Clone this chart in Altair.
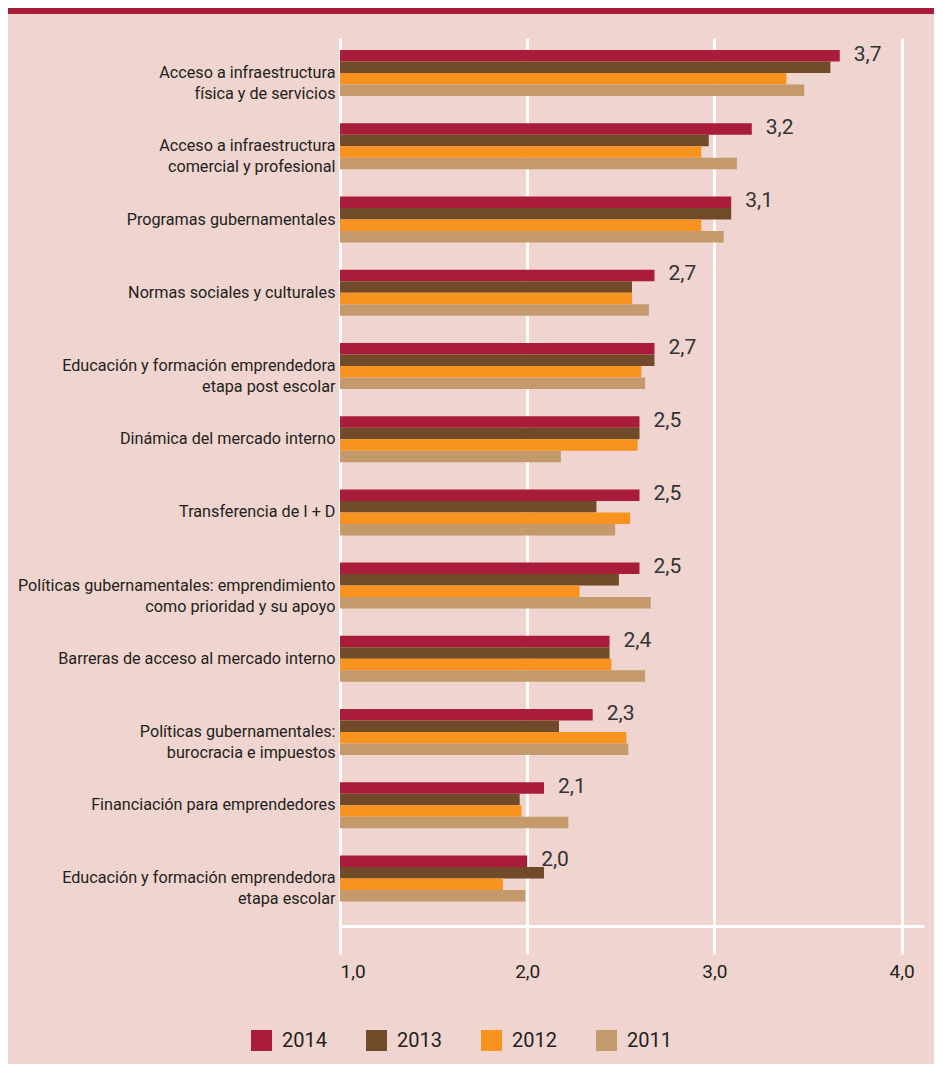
import altair as alt
import pandas as pd

categories = [
    "Acceso a infraestructura|física y de servicios",
    "Acceso a infraestructura|comercial y profesional",
    "Programas gubernamentales",
    "Normas sociales y culturales",
    "Educación y formación emprendedora|etapa post escolar",
    "Dinámica del mercado interno",
    "Transferencia de I + D",
    "Políticas gubernamentales: emprendimiento|como prioridad y su apoyo",
    "Barreras de acceso al mercado interno",
    "Políticas gubernamentales:|burocracia e impuestos",
    "Financiación para emprendedores",
    "Educación y formación emprendedora|etapa escolar",
]
years = ["2014", "2013", "2012", "2011"]
v2014 = [3.67, 3.20, 3.09, 2.68, 2.68, 2.60, 2.60, 2.60, 2.44, 2.35, 2.09, 2.00]
v2013 = [3.62, 2.97, 3.09, 2.56, 2.68, 2.60, 2.37, 2.49, 2.44, 2.17, 1.96, 2.09]
v2012 = [3.385, 2.93, 2.93, 2.56, 2.61, 2.59, 2.55, 2.28, 2.45, 2.53, 1.97, 1.87]
v2011 = [3.48, 3.12, 3.05, 2.65, 2.63, 2.18, 2.47, 2.66, 2.63, 2.54, 2.22, 1.99]
value_labels = ["3,7", "3,2", "3,1", "2,7", "2,7", "2,5", "2,5", "2,5", "2,4", "2,3", "2,1", "2,0"]
colors = ["#AA1D3A", "#714B29", "#F7931E", "#C49A6C"]

FONT = "Roboto"
TEXT = "#231F20"
BG = "#EFD4CF"

rows = []
for y, vals in zip(years, [v2014, v2013, v2012, v2011]):
    for c, v in zip(categories, vals):
        rows.append({"cat": c, "year": y, "value": v})
df = pd.DataFrame(rows)
lab_df = pd.DataFrame({"cat": categories, "year": "2014", "value": v2014, "label": value_labels})

yscale = alt.Scale(paddingInner=0.372, paddingOuter=0.25, align=0.33)
xscale = alt.Scale(domain=[1, 4.12], nice=False, zero=False)

bars = alt.Chart(df).mark_bar(opacity=1).encode(
    y=alt.Y("cat:N", sort=categories, scale=yscale,
            axis=alt.Axis(title=None, domain=False, ticks=False, grid=False,
                          labelExpr="split(datum.label, '|')", labelFontSize=16.2,
                          labelColor=TEXT, labelLimit=400, labelPadding=5,
                          labelLineHeight=21)),
    yOffset=alt.YOffset("year:N", sort=years, scale=alt.Scale(paddingInner=0, paddingOuter=0)),
    x=alt.X("value:Q", scale=xscale,
            axis=alt.Axis(title=None, values=[1, 2, 3, 4],
                          labelExpr="replace(format(datum.value, '.1f'), '.', ',')",
                          grid=True, gridColor="white", gridWidth=3, gridOpacity=1,
                          domainColor="white", domainWidth=3,
                          tickColor="white", tickWidth=3, tickSize=28,
                          labelFontSize=19, labelColor=TEXT, labelPadding=8)),
    x2=alt.datum(1),
    color=alt.Color("year:N", sort=years, scale=alt.Scale(domain=years, range=colors),
                    legend=alt.Legend(title=None, orient="none", legendX=-89, legendY=992,
                                      direction="horizontal", symbolType="square",
                                      symbolSize=441, symbolStrokeWidth=0, symbolOpacity=1,
                                      labelFontSize=20, labelColor=TEXT, labelOffset=10,
                                      columnPadding=39)),
)

texts = alt.Chart(lab_df).mark_text(align="left", baseline="middle", dx=14, dy=-1,
                                     fontSize=21, color="#333333").encode(
    y=alt.Y("cat:N", sort=categories),
    yOffset=alt.YOffset("year:N", sort=years),
    x=alt.X("value:Q"),
    text="label:N",
)

topbar = alt.Chart(lab_df).mark_rule(color="#AA1D3A", strokeWidth=8).encode(
    x=alt.value(-340), x2=alt.value(600), y=alt.value(-28)
)

chart = alt.layer(bars, texts, topbar).properties(
    width=584, height=888,
    background=BG,
    padding={"left": 332, "top": 30, "right": 10, "bottom": 138},
    autosize=alt.AutoSizeParams(type="none"),
).configure(font=FONT).configure_view(stroke=None)

chart.save("out.html", embed_options={"renderer": "svg", "actions": False})
